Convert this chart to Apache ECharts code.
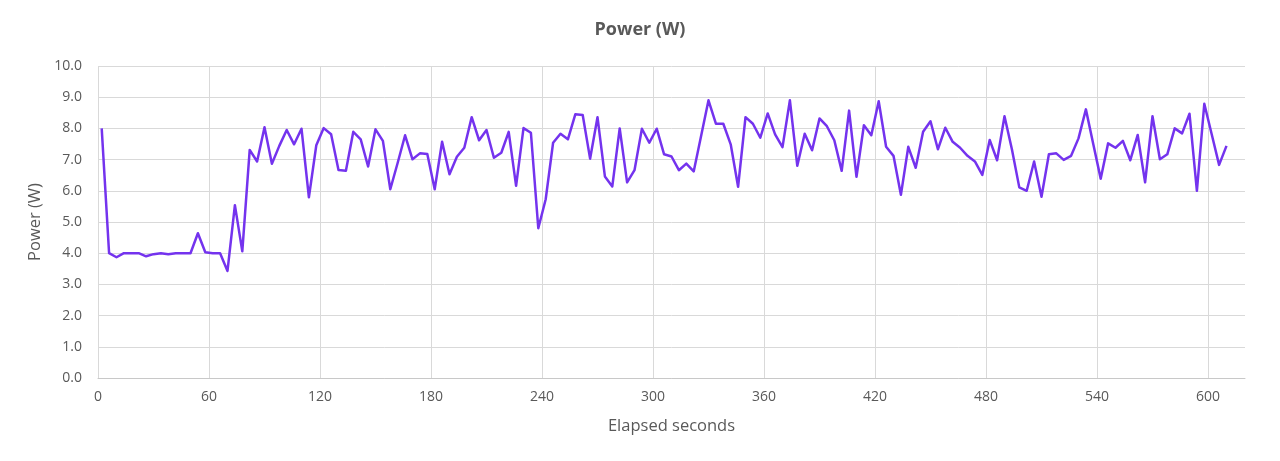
<!DOCTYPE html>
<html>
<head>
<meta charset="utf-8">
<title>Power (W)</title>
<script src="https://cdn.jsdelivr.net/npm/echarts@6/dist/echarts.min.js"></script>
<style>
  html, body { margin: 0; padding: 0; background: #fff; }
  #chart { width: 1280px; height: 461px; outline: 1px solid #d9d9d9; outline-offset: -1px; }
</style>
</head>
<body>
<div id="chart"></div>
<script>
// elapsed time of each sample (s)
const seconds = [
  2, 6, 10, 14, 18, 22, 26, 30, 34, 38, 42, 46, 50, 54, 58, 62, 66, 70, 74, 78,
  82, 86, 90, 94, 98, 102, 106, 110, 114, 118, 122, 126, 130, 134, 138, 142, 146, 150, 154, 158,
  162, 166, 170, 174, 178, 182, 186, 190, 194, 198, 202, 206, 210, 214, 218, 222, 226, 230, 234, 238,
  242, 246, 250, 254, 258, 262, 266, 270, 274, 278, 282, 286, 290, 294, 298, 302, 306, 310, 314, 318,
  322, 326, 330, 334, 338, 342, 346, 350, 354, 358, 362, 366, 370, 374, 378, 382, 386, 390, 394, 398,
  402, 406, 410, 414, 418, 422, 426, 430, 434, 438, 442, 446, 450, 454, 458, 462, 466, 470, 474, 478,
  482, 486, 490, 494, 498, 502, 506, 510, 514, 518, 522, 526, 530, 534, 538, 542, 546, 550, 554, 558,
  562, 566, 570, 574, 578, 582, 586, 590, 594, 598, 602, 606, 610
]

// power reading of each sample (W)
const power = [
  8.0, 4.0, 3.87, 4.0, 4.0, 4.0, 3.9, 3.97, 4.0, 3.97, 4.0, 4.0, 4.0, 4.64, 4.03, 4.0, 4.0, 3.43, 5.54, 4.06,
  7.31, 6.94, 8.04, 6.87, 7.44, 7.95, 7.49, 7.99, 5.79, 7.46, 8.01, 7.81, 6.67, 6.64, 7.89, 7.65, 6.78, 7.97, 7.6, 6.05,
  6.9, 7.78, 7.01, 7.2, 7.18, 6.05, 7.57, 6.53, 7.09, 7.38, 8.36, 7.62, 7.95, 7.06, 7.22, 7.89, 6.16, 8.01, 7.86, 4.8,
  5.73, 7.54, 7.83, 7.65, 8.45, 8.43, 7.03, 8.36, 6.46, 6.14, 8.0, 6.27, 6.66, 7.99, 7.54, 7.99, 7.17, 7.1, 6.66, 6.87,
  6.62, 7.76, 8.9, 8.15, 8.15, 7.49, 6.13, 8.36, 8.15, 7.7, 8.48, 7.81, 7.4, 8.9, 6.8, 7.83, 7.3, 8.32, 8.07, 7.62,
  6.64, 8.57, 6.45, 8.1, 7.78, 8.87, 7.41, 7.12, 5.87, 7.41, 6.74, 7.89, 8.23, 7.33, 8.02, 7.57, 7.38, 7.12, 6.94, 6.51,
  7.63, 6.98, 8.39, 7.33, 6.11, 6.0, 6.94, 5.81, 7.17, 7.2, 6.99, 7.12, 7.68, 8.61, 7.49, 6.39, 7.52, 7.38, 7.6, 6.98,
  7.79, 6.27, 8.39, 7.01, 7.17, 8.0, 7.84, 8.47, 6.0, 8.79, 7.81, 6.83, 7.44
]

const chartDom = document.getElementById('chart')
const chart = echarts.init(chartDom)

const textColor = '#595959'
const fontFamily = '"Open Sans", "Noto Sans", sans-serif'

const option = {
  animation: false,
  backgroundColor: '#ffffff',
  title: {
    text: 'Power (W)',
    left: 'center',
    top: 16,
    textStyle: { color: textColor, fontSize: 18, fontWeight: 'bold', fontFamily: fontFamily }
  },
  grid: {
    left: 98,
    right: 35,
    top: 66,
    bottom: 83
  },
  xAxis: {
    type: 'value',
    min: 0,
    max: 620,
    interval: 60,
    name: 'Elapsed seconds',
    nameLocation: 'middle',
    nameGap: 40,
    nameTextStyle: { color: textColor, fontSize: 16.5, fontFamily: fontFamily },
    axisLine: { show: true, lineStyle: { color: '#c8c8c8', width: 1 } },
    axisTick: { show: false },
    axisLabel: { color: textColor, fontSize: 14, fontFamily: fontFamily, margin: 12, showMaxLabel: false },
    splitLine: { show: true, showMaxLine: false, lineStyle: { color: '#d9d9d9', width: 1 } }
  },
  yAxis: {
    type: 'value',
    min: 0,
    max: 10,
    interval: 1,
    name: 'Power (W)',
    nameLocation: 'middle',
    nameGap: 52,
    nameTextStyle: { color: textColor, fontSize: 16.5, fontFamily: fontFamily },
    axisLine: { show: false },
    axisTick: { show: false },
    axisLabel: {
      color: textColor,
      fontSize: 14,
      fontFamily: fontFamily,
      margin: 16,
      formatter: (v) => v.toFixed(1)
    },
    splitLine: { show: true, lineStyle: { color: '#d9d9d9', width: 1 } }
  },
  series: [
    {
      name: 'Power (W)',
      type: 'line',
      data: seconds.map((s, i) => [s, power[i]]),
      showSymbol: false,
      lineStyle: { color: '#7433ee', width: 2.5, join: 'round' },
      itemStyle: { color: '#7433ee' }
    }
  ]
}

chart.setOption(option)

window.addEventListener('resize', () => {
  chart.resize()
})
</script>
</body>
</html>
